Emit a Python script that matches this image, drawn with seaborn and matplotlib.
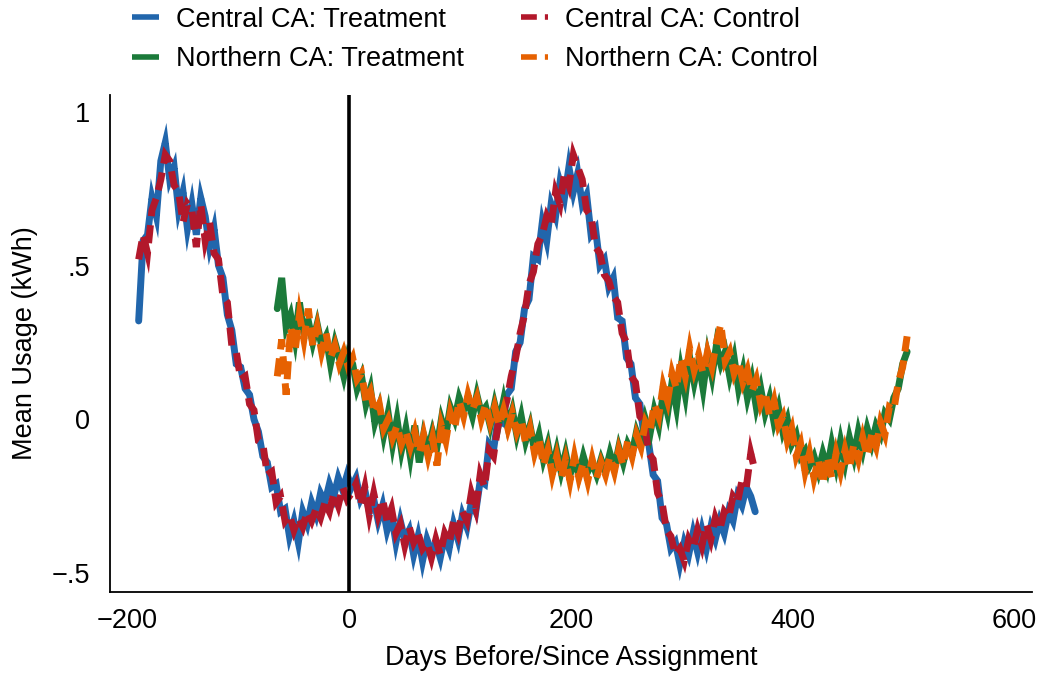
import numpy as np
import pandas as pd
import matplotlib
matplotlib.use("Agg")
import matplotlib.pyplot as plt
import seaborn as sns

# Daily mean usage (every 4th day)
central_start = -190
central_treatment = [
    0.32, 0.58, 0.60, 0.72, 0.66, 0.84, 0.90, 0.78, 0.82, 0.68, 0.74, 0.62, 0.70, 0.60,
    0.72, 0.66, 0.56, 0.62, 0.50, 0.46, 0.34, 0.29, 0.18, 0.17, 0.10, 0.08, 0.00, -0.04,
    -0.12, -0.14, -0.22, -0.21, -0.30, -0.29, -0.38, -0.33, -0.40, -0.30, -0.34, -0.27, -0.31, -0.24,
    -0.27, -0.21, -0.25, -0.19, -0.23, -0.18, -0.22, -0.19, -0.26, -0.23, -0.30, -0.26, -0.33, -0.28,
    -0.36, -0.31, -0.40, -0.33, -0.39, -0.36, -0.44, -0.38, -0.46, -0.39, -0.43, -0.40, -0.45, -0.38,
    -0.42, -0.34, -0.39, -0.31, -0.35, -0.27, -0.30, -0.20, -0.21, -0.08, -0.10, 0.00, -0.01, 0.08,
    0.10, 0.22, 0.25, 0.36, 0.39, 0.53, 0.52, 0.64, 0.58, 0.70, 0.66, 0.77, 0.72, 0.82,
    0.74, 0.80, 0.70, 0.73, 0.60, 0.62, 0.50, 0.52, 0.43, 0.46, 0.33, 0.32, 0.20, 0.18,
    0.07, 0.05, -0.06, -0.08, -0.18, -0.20, -0.32, -0.34, -0.42, -0.40, -0.47, -0.40, -0.44, -0.37,
    -0.43, -0.36, -0.42, -0.35, -0.39, -0.33, -0.37, -0.30, -0.33, -0.25, -0.28, -0.22, -0.25, -0.30,
]
central_control = [
    0.52, 0.60, 0.54, 0.68, 0.72, 0.78, 0.86, 0.84, 0.76, 0.74, 0.64, 0.70, 0.68, 0.56,
    0.70, 0.58, 0.64, 0.54, 0.52, 0.40, 0.38, 0.24, 0.22, 0.13, 0.14, 0.05, 0.03, -0.07,
    -0.08, -0.18, -0.17, -0.27, -0.25, -0.33, -0.31, -0.36, -0.32, -0.35, -0.30, -0.33, -0.29, -0.32,
    -0.27, -0.30, -0.24, -0.28, -0.22, -0.26, -0.24, -0.21, -0.28, -0.22, -0.31, -0.24, -0.31, -0.26,
    -0.33, -0.29, -0.37, -0.34, -0.41, -0.35, -0.40, -0.37, -0.42, -0.40, -0.45, -0.39, -0.44, -0.37,
    -0.40, -0.33, -0.37, -0.30, -0.33, -0.24, -0.29, -0.18, -0.22, -0.10, -0.12, -0.02, 0.01, 0.06,
    0.14, 0.20, 0.28, 0.34, 0.44, 0.48, 0.57, 0.60, 0.66, 0.63, 0.74, 0.70, 0.80, 0.76,
    0.86, 0.82, 0.78, 0.68, 0.66, 0.56, 0.54, 0.47, 0.45, 0.40, 0.38, 0.28, 0.25, 0.14,
    0.12, 0.01, -0.01, -0.11, -0.13, -0.24, -0.27, -0.36, -0.38, -0.44, -0.42, -0.46, -0.39, -0.42,
    -0.36, -0.41, -0.34, -0.39, -0.32, -0.36, -0.30, -0.32, -0.25, -0.27, -0.20, -0.22, -0.11, -0.17,
]

northern_start = -65
northern_treatment = [
    0.36, 0.46, 0.30, 0.34, 0.26, 0.38, 0.28, 0.32, 0.25, 0.31, 0.24, 0.27, 0.18, 0.25,
    0.20, 0.14, 0.21, 0.18, 0.10, 0.14, 0.05, 0.10, -0.01, 0.04, -0.05, 0.02, -0.08, 0.00,
    -0.10, -0.03, -0.12, -0.02, -0.14, -0.05, -0.10, -0.04, -0.09, 0.00, -0.05, 0.04, 0.00, 0.07,
    0.03, 0.06, 0.01, 0.08, 0.02, 0.04, -0.02, 0.05, -0.01, 0.06, -0.02, 0.03, -0.05, 0.01,
    -0.07, -0.02, -0.10, -0.05, -0.13, -0.08, -0.16, -0.10, -0.17, -0.11, -0.18, -0.13, -0.18, -0.12,
    -0.17, -0.14, -0.18, -0.13, -0.17, -0.11, -0.16, -0.09, -0.14, -0.08, -0.11, -0.04, -0.08, 0.00,
    -0.05, 0.03, -0.02, 0.08, 0.02, 0.12, 0.04, 0.16, 0.08, 0.20, 0.12, 0.19, 0.10, 0.21,
    0.14, 0.24, 0.18, 0.22, 0.14, 0.20, 0.10, 0.16, 0.07, 0.13, 0.04, 0.10, 0.02, 0.07,
    -0.01, 0.04, -0.04, 0.00, -0.08, -0.05, -0.12, -0.10, -0.15, -0.12, -0.17, -0.11, -0.16, -0.08,
    -0.15, -0.07, -0.14, -0.06, -0.12, -0.04, -0.10, -0.03, -0.08, -0.02, -0.05, 0.02, 0.00, 0.07,
    0.10, 0.18, 0.22,
]
northern_control = [
    0.14, 0.26, 0.08, 0.30, 0.22, 0.34, 0.26, 0.36, 0.24, 0.30, 0.22, 0.28, 0.20, 0.24,
    0.18, 0.22, 0.17, 0.20, 0.13, 0.15, 0.06, 0.09, 0.02, 0.05, -0.03, 0.00, -0.06, -0.02,
    -0.08, -0.04, -0.09, -0.04, -0.11, -0.05, -0.12, -0.06, -0.15, -0.02, -0.07, 0.02, -0.03, 0.06,
    0.01, 0.08, 0.03, 0.07, 0.00, 0.05, -0.01, 0.04, -0.02, 0.03, -0.03, 0.02, -0.04, 0.00,
    -0.08, -0.03, -0.11, -0.06, -0.15, -0.10, -0.18, -0.12, -0.19, -0.13, -0.20, -0.12, -0.19, -0.14,
    -0.20, -0.13, -0.19, -0.14, -0.18, -0.12, -0.17, -0.10, -0.15, -0.07, -0.12, -0.05, -0.09, -0.01,
    -0.04, 0.05, 0.01, 0.11, 0.06, 0.15, 0.10, 0.20, 0.14, 0.23, 0.16, 0.21, 0.15, 0.22,
    0.17, 0.25, 0.31, 0.19, 0.22, 0.15, 0.19, 0.12, 0.16, 0.09, 0.13, 0.05, 0.09, 0.01,
    0.06, -0.02, 0.01, -0.07, -0.03, -0.12, -0.08, -0.17, -0.11, -0.19, -0.13, -0.21, -0.12, -0.19,
    -0.11, -0.17, -0.10, -0.16, -0.08, -0.13, -0.06, -0.12, -0.05, -0.09, -0.01, -0.05, 0.04, 0.03,
    0.12, 0.17, 0.27,
]
step = 4

series_names = ["Central CA: Treatment", "Northern CA: Treatment",
                "Central CA: Control", "Northern CA: Control"]
series_colors = ["#2166ac", "#1b7a3a", "#b2182b", "#e66101"]
series_dashed = [False, False, True, True]

xticks = [-200, 0, 200, 400, 600]
yticks = [-0.5, 0, 0.5, 1]
ytick_labels = ["\u2212.5", "0", ".5", "1"]


def monta_df(nome, inicio, valores):
    dias = inicio + step * np.arange(len(valores))
    return pd.DataFrame({"dia": dias, "uso": valores, "serie": nome})


dados = {
    "Central CA: Treatment": monta_df("Central CA: Treatment", central_start, central_treatment),
    "Central CA: Control": monta_df("Central CA: Control", central_start, central_control),
    "Northern CA: Treatment": monta_df("Northern CA: Treatment", northern_start, northern_treatment),
    "Northern CA: Control": monta_df("Northern CA: Control", northern_start, northern_control),
}

sns.set_theme(style="white")
plt.rcParams["font.family"] = ["Liberation Sans", "DejaVu Sans"]
plt.rcParams.update({
    "font.size": 19.5,
    "text.color": "black",
    "axes.labelcolor": "black",
    "xtick.color": "black",
    "ytick.color": "black",
})

fig = plt.figure(figsize=(10.46, 6.77), dpi=100)
ax = fig.add_axes([0.105, 0.126, 0.882, 0.734])

lw = 5
for nome, cor, tracejado in zip(series_names, series_colors, series_dashed):
    estilo = (0, (2.6, 1.3)) if tracejado else "-"
    sns.lineplot(data=dados[nome], x="dia", y="uso", ax=ax, color=cor,
                 linestyle=estilo, linewidth=lw, label=nome, estimator=None,
                 errorbar=None, sort=False,
                 solid_joinstyle="miter", dash_joinstyle="miter",
                 solid_capstyle="round", dash_capstyle="butt")

ax.axvline(0, color="black", linewidth=2.6, zorder=5)

ax.set_xlim(-216, 616)
ax.set_ylim(-0.56, 1.055)
ax.set_xticks(xticks)
ax.set_xticklabels([str(t).replace("-", "\u2212") for t in xticks])
ax.set_yticks(yticks)
ax.set_yticklabels(ytick_labels)
ax.tick_params(axis="both", length=0, labelsize=19.5, colors="black")
ax.tick_params(axis="x", pad=12)
ax.tick_params(axis="y", pad=14)
ax.set_xlabel("Days Before/Since Assignment", fontsize=19.5, labelpad=8)
ax.set_ylabel("Mean Usage (kWh)", fontsize=19.5, labelpad=10)
for lado in ["top", "right"]:
    ax.spines[lado].set_visible(False)
for lado in ["left", "bottom"]:
    ax.spines[lado].set_color("black")
    ax.spines[lado].set_linewidth(1.3)

handles, labels = ax.get_legend_handles_labels()
ax.get_legend().remove()
leg = fig.legend(handles, labels, loc="upper left", bbox_to_anchor=(0.1262, 0.99),
                 ncol=2, frameon=False, fontsize=19.5, handlelength=1.0,
                 handletextpad=0.63, columnspacing=2.1, labelspacing=0.49,
                 borderpad=0, borderaxespad=0)
for linha in leg.get_lines():
    linha.set_solid_capstyle("butt")
    linha.set_linewidth(4)
    if linha.get_linestyle() != "-":
        linha.set_dashes((2.85, 1.45))

plt.savefig("out.png", dpi=100)
plt.close()
